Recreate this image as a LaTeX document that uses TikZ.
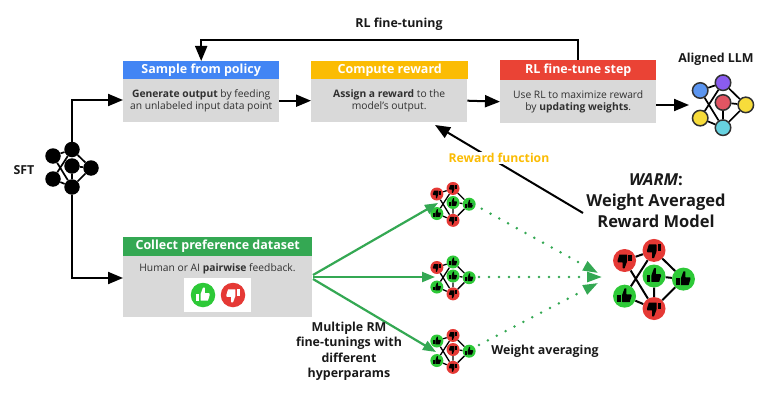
\documentclass[tikz,border=0pt]{standalone}
\usepackage{fontspec}
\setmainfont{Open Sans}
\usetikzlibrary{arrows.meta,calc}
\definecolor{gblue}{HTML}{4285F4}
\definecolor{gyel}{HTML}{FBBC04}
\definecolor{gred}{HTML}{EA4335}
\definecolor{ggreen}{HTML}{34A853}
\definecolor{boxgray}{HTML}{D9D9D9}
\definecolor{thg}{HTML}{2DC937}
\definecolor{thr}{HTML}{E53935}
\definecolor{ink}{HTML}{303030}
\newcommand\thumbshape[1]{%
  \path[#1] (-.62,-.08) rectangle (-.32,.52);
  \path[#1,rounded corners=.4pt] (-.22,-.08) -- (0,-.68) -- (.16,-.68) -- (.16,-.16) -- (.58,-.16) -- (.62,-.04) -- (.45,.52) -- (-.22,.52) -- cycle;
}
\tikzset{
 hdr/.style={rectangle,inner sep=0pt,text=white,font=\fontsize{12.5}{14}\selectfont\bfseries,anchor=north west},
 bodybox/.style={rectangle,inner sep=0pt,fill=boxgray,text=ink,align=center,font=\fontsize{10.3}{12.3}\selectfont,anchor=north west},
 lbl/.style={inner sep=0pt,align=center,text=black!90,font=\fontsize{12.4}{15.5}\selectfont\bfseries},
 warmlbl/.style={inner sep=0pt,align=center,text=black!90,font=\fontsize{16.5}{21}\selectfont\bfseries},
 flow/.style={line width=2pt,black,-{Triangle[length=15pt,width=12pt]}},
 gflow/.style={line width=2.2pt,ggreen,-{Triangle[length=13pt,width=10pt]}},
 gdot/.style={line width=2.8pt,ggreen,line cap=round,dash pattern=on 0pt off 10pt,-{Triangle[length=15pt,width=10pt]}},
 nd/.style={circle,inner sep=0pt,minimum size=#1},
 netk/.style={fill=black},
 netg/.style={fill=thg},
 netr/.style={fill=thr},
 netb/.style={fill={rgb,255:red,91;green,149;blue,240},draw=ink,line width=1.5pt},
 netp/.style={fill={rgb,255:red,138;green,92;blue,240},draw=ink,line width=1.5pt},
 nete/.style={fill={rgb,255:red,226;green,85;blue,99},draw=ink,line width=1.5pt},
 nety/.style={fill={rgb,255:red,247;green,220;blue,59},draw=ink,line width=1.5pt},
 netc/.style={fill={rgb,255:red,103;green,210;blue,224},draw=ink,line width=1.5pt},
 thumbw/.pic={\thumbshape{fill=white}},
 thumbwd/.pic={\begin{scope}[rotate=180]\thumbshape{fill=white}\end{scope}},
 thumbg/.pic={\thumbshape{fill=black}},
 thumbr/.pic={\begin{scope}[rotate=180]\thumbshape{fill=black}\end{scope}},
 thumbk/.pic={}, thumbb/.pic={}, thumbp/.pic={}, thumbe/.pic={}, thumby/.pic={}, thumbc/.pic={},
}
% prefix, x, y, scale, diameter, line width, six kinds
\newcommand\mynet[7]{\netparse{#1}{#2}{#3}{#4}{#5}{#6}#7\relax}
\def\netparse#1#2#3#4#5#6#7,#8,#9\relax{%
 \def\kA{#7}\def\kB{#8}\netparseb{#1}{#2}{#3}{#4}{#5}{#6}#9\relax}
\def\netparseb#1#2#3#4#5#6#7,#8,#9,{\def\kC{#7}\def\kD{#8}\def\kE{#9}\netparsec{#1}{#2}{#3}{#4}{#5}{#6}}
\def\netparsec#1#2#3#4#5#6#7\relax{%
 \node[nd=#5pt,net\kA] (#1-lu) at ({#2-19*#4},{#3-10*#4}) {};
 \node[nd=#5pt,net\kB] (#1-top) at ({#2},{#3-16.5*#4}) {};
 \node[nd=#5pt,net\kC] (#1-ctr) at ({#2},{#3}) {};
 \node[nd=#5pt,net\kD] (#1-rt) at ({#2+19*#4},{#3+2*#4}) {};
 \node[nd=#5pt,net\kE] (#1-ld) at ({#2-19*#4},{#3+13*#4}) {};
 \node[nd=#5pt,net#7] (#1-bot) at ({#2},{#3+21*#4}) {};
 \draw[line width=#6pt,black] (#1-lu)--(#1-top) (#1-lu)--(#1-bot) (#1-ld)--(#1-top) (#1-ld)--(#1-bot)
   (#1-top)--(#1-rt) (#1-ctr)--(#1-rt) (#1-ctr)--(#1-bot) (#1-rt)--(#1-bot);
 \pgfmathsetmacro\thsc{#5/2}
 \pic[scale=\thsc] at (#1-lu) {thumb\kA};
 \pic[scale=\thsc] at (#1-top) {thumb\kB};
 \pic[scale=\thsc] at (#1-ctr) {thumb\kC};
 \pic[scale=\thsc] at (#1-rt) {thumb\kD};
 \pic[scale=\thsc] at (#1-ld) {thumb\kE};
 \pic[scale=\thsc] at (#1-bot) {thumb#7};
}
\begin{document}
\begin{tikzpicture}[x=1pt,y=-1pt]
\useasboundingbox (0,0) rectangle (775,401);
% boxes
\node[hdr,fill=gblue,minimum width=156pt,minimum height=18pt] (samh) at (123,61) {Sample from policy};
\node[bodybox,minimum width=156pt,minimum height=43pt] (samb) at (123,79) {\textbf{Generate output} by feeding\\an unlabeled input data point};
\node[hdr,fill=gyel,minimum width=157pt,minimum height=18pt] (comh) at (311,61) {Compute reward};
\node[bodybox,minimum width=156pt,minimum height=43pt] (comb) at (311,79) {\textbf{Assign a reward} to the\\model’s output.};
\node[hdr,fill=gred,minimum width=156pt,minimum height=20pt] (rlh) at (500,60) {RL fine-tune step};
\node[bodybox,minimum width=156pt,minimum height=43pt] (rlb) at (500,80) {Use RL to maximize reward\\by \textbf{updating weights}.};
\node[hdr,fill=ggreen,minimum width=189pt,minimum height=19pt] (colh) at (123,237) {Collect preference dataset};
\node[bodybox,minimum width=189pt,minimum height=61pt] (colb) at (123,256) {};
\node[inner sep=0pt,text=ink,font=\fontsize{10.3}{12.3}\selectfont] (colt) at (217.5,269) {Human or AI \textbf{pairwise} feedback.};
\node[rectangle,fill=white,inner sep=0pt,minimum width=67pt,minimum height=34pt] (thbox) at (217.5,295) {};
\node[nd=24.5pt,fill=thg] (thup) at (203,295) {};
\node[nd=24.5pt,fill=thr] (thdn) at (233,295) {};
\pic[scale=11] at (thup) {thumbw};
\pic[scale=11] at (thdn) {thumbwd};
% networks
\mynet{s}{72}{166}{1}{15.5}{1.7}{k,k,k,k,k,k}
\mynet{a}{723}{102.5}{1.2}{15.5}{1.7}{b,p,e,y,y,c}
\mynet{n}{453}{202.5}{.85}{13}{1.3}{r,r,g,g,g,r}
\mynet{m}{453}{276}{.85}{13}{1.3}{r,g,g,g,g,r}
\mynet{o}{453}{349.5}{.85}{13}{1.3}{g,r,r,g,g,r}
\mynet{w}{654}{276}{1.55}{23}{2}{r,r,g,g,g,r}
% black connectors
\coordinate (ctop) at (123,100);
\coordinate (cbot) at (123,278);
\coordinate (fbk) at (390,40);
\coordinate (alin) at (689,105);
\draw[flow] (s-top) |- (ctop);
\draw[flow] (s-bot) |- (cbot);
\draw[flow] (samb.east) -- (comb.west);
\draw[flow] (comb.east) -- (rlb.west);
\draw[flow] (rlb.east |- alin) -- (alin);
\draw[flow] (rlh.north) |- (fbk) -| (samh.north);
% reward function
\coordinate (warmst) at (583,213);
\coordinate (rewtip) at (435,125);
\draw[flow] (warmst) -- (rewtip);
\node[fill=white,inner sep=1.5pt,text=gyel,font=\fontsize{12.2}{14}\selectfont\bfseries] (rewf) at (499,158) {Reward function};
% green
\coordinate (g1s) at (313,275); \coordinate (g1e) at (438,203);
\coordinate (g2s) at (313,277); \coordinate (g2e) at (435,277);
\coordinate (g3s) at (313,279); \coordinate (g3e) at (436,352);
\draw[gflow] (g1s) -- (g1e);
\draw[gflow] (g2s) -- (g2e);
\draw[gflow] (g3s) -- (g3e);
\coordinate (d1s) at (473,204); \coordinate (d2s) at (479,277); \coordinate (d3s) at (479,345);
\coordinate (d1e) at (598,273); \coordinate (d2e) at (602,277); \coordinate (d3e) at (598,283);
\draw[gdot] (d1s) -- (d1e);
\draw[gdot] (d2s) -- (d2e);
\draw[gdot] (d3s) -- (d3e);
% labels
\node[lbl] (lrl) at (399,24) {RL fine-tuning};
\node[lbl] (lal) at (716,59) {Aligned LLM};
\node[lbl] (lsf) at (24,170) {SFT};
\node[warmlbl] (lwarm) at (656,201) {\textit{WARM}:\\Weight Averaged\\Reward Model};
\node[lbl] (lmul) at (349,351.5) {Multiple RM\\fine-tunings with\\different\\hyperparams};
\node[lbl] (lwav) at (545,351) {Weight averaging};
\end{tikzpicture}
\end{document}
